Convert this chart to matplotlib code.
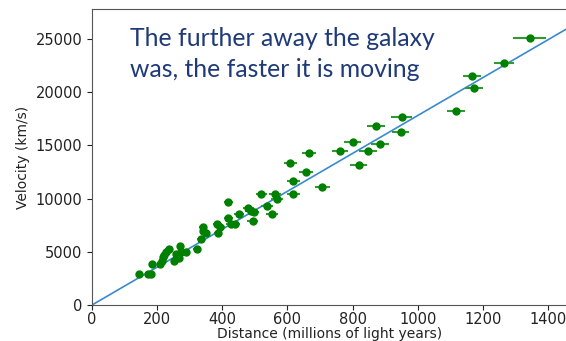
import matplotlib
matplotlib.use("Agg")
import matplotlib.pyplot as plt

# Galaxy distances (millions of light years), velocities (km/s) and distance uncertainties
distance = [143, 171, 181, 183, 209, 214, 217, 221, 227, 235, 252, 258, 260, 268, 270,
            273, 287, 321, 335, 341, 342, 350, 385, 386, 393, 418, 418, 426, 438, 452,
            480, 487, 493, 497, 519, 538, 553, 562, 567, 608, 618, 618, 656, 667, 707,
            761, 800, 818, 848, 871, 884, 947, 950, 1117, 1167, 1173, 1265, 1343]
velocity = [2880, 2880, 2880, 3820, 3820, 4130, 4480, 4700, 5010, 5260, 4130, 4760, 4540,
            4380, 5510, 5010, 4980, 5260, 6170, 7330, 6950, 6800, 7610, 6800, 7370, 9650,
            8150, 7610, 7610, 8520, 9080, 8830, 7930, 8710, 10470, 9340, 8520, 10470, 9940,
            13380, 11650, 10470, 12530, 14250, 11060, 14500, 15350, 13160, 14500, 16820,
            15100, 16230, 17640, 18260, 21520, 20420, 22700, 25050]
distance_err = [8, 8, 8, 8, 9, 9, 9, 9, 9, 10, 10, 10, 10, 10, 10,
                10, 11, 12, 12, 12, 12, 13, 13, 13, 14, 14, 14, 14, 15, 15,
                16, 16, 16, 17, 17, 18, 18, 18, 19, 20, 20, 20, 21, 22, 23,
                24, 25, 26, 27, 27, 28, 26, 31, 27, 28, 27, 31, 51]

# Slope of the velocity-distance relation (km/s per million light years)
hubble_slope = 17.8

x_ticks = [0, 200, 400, 600, 800, 1000, 1200, 1400]
y_ticks = [0, 5000, 10000, 15000, 20000, 25000]
x_max = 1461
y_max = 27800

fig = plt.figure(figsize=(5.66, 3.41), dpi=100)
ax = fig.add_axes([92 / 566, 36 / 341, 476 / 566, 296 / 341])

ax.plot([0, x_max], [0, hubble_slope * x_max], color="#3a8acd", lw=1.2, zorder=2)
ax.errorbar(distance, velocity, xerr=distance_err, fmt="o", color="green", ms=5,
            ecolor="#2f9a2f", elinewidth=1.5, capsize=0, zorder=3)

ax.set_xlim(0, x_max)
ax.set_ylim(0, y_max)
ax.set_xticks(x_ticks)
ax.set_yticks(y_ticks)
ax.tick_params(labelsize=10.5, colors="#222222")
ax.tick_params(axis="x", pad=1.5)
for side in ["left", "bottom", "top", "right"]:
    ax.spines[side].set_color("#555555")

ax.set_xlabel("Distance (millions of light years)", fontsize=10, color="#222222", labelpad=0)
ax.set_ylabel("Velocity (km/s)", fontsize=10, color="#222222")

fig.text(130 / 566, 1 - 27 / 341, "The further away the galaxy\nwas, the faster it is moving",
         fontsize=17.8, family="Lato", color="#1f3a78", va="top", ha="left", linespacing=1.42)

fig.savefig("out.png", dpi=100)
